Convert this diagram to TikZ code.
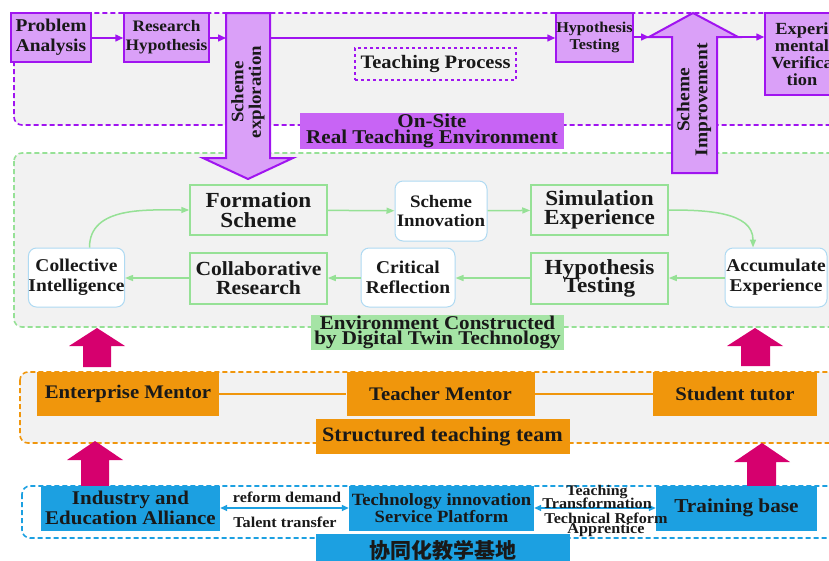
\documentclass[tikz,border=0pt]{standalone}
\usepackage{fontspec}
\setmainfont{Liberation Serif}[FakeStretch=1.08]
\newfontfamily\cjk{Noto Sans CJK SC}
\usetikzlibrary{arrows.meta}

\definecolor{vio}{RGB}{160,20,240}
\definecolor{viofill}{RGB}{218,160,248}
\definecolor{violabel}{RGB}{200,100,245}
\definecolor{bggray}{RGB}{242,242,242}
\definecolor{grn}{RGB}{150,225,150}
\definecolor{grnfill}{RGB}{165,228,165}
\definecolor{skyline}{RGB}{175,218,242}
\definecolor{mag}{RGB}{214,0,110}
\definecolor{org}{RGB}{240,150,12}
\definecolor{blu}{RGB}{28,160,225}
\definecolor{ink}{RGB}{25,25,25}

\newcommand{\fs}[1]{\bfseries\fontsize{#1}{#1}\selectfont}

\begin{document}
\begin{tikzpicture}[x=1pt, y=-1pt, every node/.style={text=ink, align=center, inner sep=0pt},
    panel/.style={dashed, dash pattern=on 5pt off 3pt, line width=1.6pt, rounded corners=8pt},
    pbox/.style={draw=vio, line width=1.5pt, fill=viofill},
    gbox/.style={draw=grn, line width=1.5pt, minimum width=137, minimum height=50, font=\fs{21.5}},
    rbox/.style={draw=skyline, line width=1pt, fill=white, rounded corners=8pt, minimum height=59, font=\fs{17.5}},
    obox/.style={fill=org, minimum height=44, font=\fs{19.2}},
    bbox/.style={fill=blu, minimum height=45},
    pflow/.style={draw=vio, line width=1.5pt, -{Triangle[length=8pt,width=7pt]}},
    gflow/.style={draw=grn, line width=1.5pt, -{Triangle[length=8pt,width=6pt]}},
    bflow/.style={draw=blu, line width=1.5pt, {Triangle[length=7pt,width=6pt]}-{Triangle[length=7pt,width=6pt]}},
    bigarrow/.style={draw=vio, line width=2pt, fill=viofill},
    uparrow/.style={fill=mag}]
    \useasboundingbox (0,0) rectangle (829,560);
    \clip (0,0) rectangle (829,560);

    % dashed panels
    \draw[panel, draw=vio, fill=bggray] (14,13) rectangle (850,125);
    \draw[panel, draw=grn, fill=bggray] (14,153) rectangle (850,327);
    \draw[panel, draw=org, fill=bggray] (20,372) rectangle (850,443);
    \draw[panel, draw=blu, fill=white] (22,486) rectangle (850,538);

    % big arrows
    \draw[bigarrow] (226,13) -- (270,13) -- (270,158) -- (293,158) -- (248,179)
        -- (203,158) -- (226,158) -- cycle;
    \draw[bigarrow] (693,13) -- (738,37) -- (717,37) -- (717,173) -- (672,173)
        -- (672,37) -- (649,37) -- cycle;
    \coordinate (sxl) at (226,38);
    \coordinate (sxr) at (270,38);
    \coordinate (siml) at (649,37);
    \coordinate (simr) at (738,37);
    \node[rotate=90, font=\fs{17.5}] (sxt) at (248,92) {Scheme\\exploration};
    \node[rotate=90, font=\fs{18}] (simt) at (694,100) {Scheme\\Improvement};

    \fill[uparrow] (97,328) -- (125,346) -- (111,346) -- (111,367) -- (83,367) -- (83,346) -- (69,346) -- cycle;
    \fill[uparrow] (755,328) -- (783,346) -- (770,346) -- (770,366) -- (741,366) -- (741,346) -- (727,346) -- cycle;
    \fill[uparrow] (95,441) -- (123,460) -- (109,460) -- (109,486) -- (81,486) -- (81,460) -- (67,460) -- cycle;
    \fill[uparrow] (762,443) -- (790,462) -- (776,462) -- (776,486) -- (747,486) -- (747,462) -- (734,462) -- cycle;

    % teaching process
    \node[pbox, minimum width=80, minimum height=49, font=\fs{18}] (pa) at (51,37.5) {Problem\\[2pt]Analysis};
    \node[pbox, minimum width=85, minimum height=49, font=\fs{16}] (rh) at (166.5,37.5) {Research\\[3pt]Hypothesis};
    \node[pbox, minimum width=77, minimum height=49, font=\fs{15}] (ht) at (594.5,37.5) {Hypothesis\\[2pt]Testing};
    \node[pbox, minimum width=74, minimum height=82, font=\fs{17}] (ev) at (802,54) {Experi\\mental\\Verifica\\tion};
    \node[draw=vio, dashed, line width=1.5pt, minimum width=161, minimum height=32, font=\fs{19}] (tp) at (435.5,64) {Teaching Process};
    \node[fill=violabel, minimum width=264, minimum height=36, font=\fs{19.5}] (onsite) at (432,131) {On-Site\\[-4pt]Real Teaching Environment};

    \draw[pflow] (pa.east |- 0,38) -- (rh.west |- 0,38);
    \draw[pflow] (rh.east |- sxl) -- (sxl);
    \draw[pflow] (sxr) -- (ht.west |- sxr);
    \draw[pflow] (ht.east |- siml) -- (siml);
    \draw[pflow] (simr) -- (ev.west |- simr);

    % digital twin loop
    \node[gbox] (fs) at (258.5,210) {Formation\\[-2pt]Scheme};
    \node[rbox, minimum width=92, minimum height=60] (si) at (441,211) {Scheme\\[2pt]Innovation};
    \node[gbox] (se) at (599.5,210) {Simulation\\[-2pt]Experience};
    \node[rbox, minimum width=102, font=\fs{18}] (ae) at (776,277.5) {Accumulate\\[2pt]Experience};
    \node[gbox, minimum height=51] (ht2) at (599.5,278.5) {Hypothesis\\[-3pt]Testing};
    \node[rbox, minimum width=94, font=\fs{18}] (cr) at (408,277.5) {Critical\\[2pt]Reflection};
    \node[gbox, minimum height=51, font=\fs{20}] (cor) at (258.5,278.5) {Collaborative\\[-1pt]Research};
    \node[rbox, minimum width=95, font=\fs{18}] (ci) at (76.5,277.5) {Collective\\[2pt]Intelligence};
    \node[fill=grnfill, minimum width=253, minimum height=35, font=\fs{19.5}] (env) at (437.5,332.5) {Environment Constructed\\[-4pt]by Digital Twin Technology};

    \draw[gflow] ([xshift=13pt]ci.north) to[out=90, in=180] (fs.west);
    \draw[gflow] (fs) -- (si);
    \draw[gflow] (si) -- (se);
    \draw[gflow] (se.east) to[out=0, in=90] ([xshift=-23pt]ae.north);
    \draw[gflow] (ae.west |- 0,278) -- (ht2.east |- 0,278);
    \draw[gflow] (ht2.west |- 0,278) -- (cr.east |- 0,278);
    \draw[gflow] (cr.west |- 0,278) -- (cor.east |- 0,278);
    \draw[gflow] (cor.west |- 0,278) -- (ci.east |- 0,278);

    % teaching team
    \node[obox, minimum width=182] (em) at (128,394) {Enterprise Mentor};
    \node[obox, minimum width=188] (tm) at (440.5,394) {Teacher Mentor};
    \node[obox, minimum width=164] (st) at (735,394) {Student tutor};
    \node[obox, minimum width=254, minimum height=35, font=\fs{20.5}] (stt) at (442.5,436.5) {Structured teaching team};
    \draw[org, line width=1.5pt] (em) -- (tm);
    \draw[org, line width=1.5pt] (tm) -- (st);

    % base
    \node[bbox, minimum width=179, font=\fs{19.4}] (iea) at (130.5,508) {Industry and\\Education Alliance};
    \node[bbox, minimum width=185, font=\fs{17.2}] (tisp) at (441.5,508) {Technology innovation\\Service Platform};
    \node[bbox, minimum width=161, font=\fs{19.7}] (tb) at (736.5,508) {Training base};
    \node[fill=blu, minimum width=254, minimum height=32, font=\cjk\fs{21}] (base) at (442.5,550) {协同化教学基地};
    \draw[bflow] (iea) -- (tisp);
    \draw[bflow] (tisp) -- (tb);
    \node[font=\fs{15}] (rd) at (287,497) {reform demand};
    \node[font=\fs{15}] (tt) at (285,522) {Talent transfer};
    \node[font=\fs{14.7}] (tch) at (597,492) {Teaching};
    \node[font=\fs{15}] (trf) at (597,503) {Transformation};
    \node[font=\fs{15}] (trm) at (606,518) {Technical Reform};
    \node[font=\fs{15}] (app) at (606,530) {Apprentice};
\end{tikzpicture}
\end{document}
